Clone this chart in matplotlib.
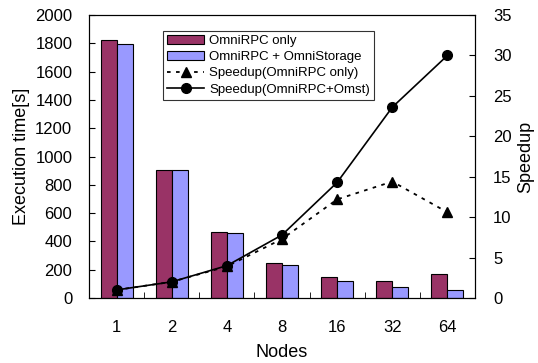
import matplotlib
matplotlib.use('Agg')
import matplotlib.pyplot as plt
import numpy as np

plt.rcParams['font.family'] = ['Liberation Sans', 'DejaVu Sans']

nodes = ['1', '2', '4', '8', '16', '32', '64']
time_rpc_only = [1820, 902, 468, 250, 148, 118, 167]
time_rpc_omst = [1795, 902, 457, 231, 118, 76, 54]
speedup_rpc_only = [1.0, 2.0, 3.9, 7.3, 12.2, 14.4, 10.6]
speedup_rpc_omst = [1.0, 2.0, 4.0, 7.8, 14.3, 23.6, 30.0]

fig = plt.figure(figsize=(5.38, 3.63), dpi=100)
ax1 = fig.add_axes([0.1654, 0.179, 0.7176, 0.7797])
x = np.arange(len(nodes))
width = 0.29

ax1.bar(x - width/2, time_rpc_only, width, color='#993366', edgecolor='black',
        linewidth=0.8, label='OmniRPC only')
ax1.bar(x + width/2, time_rpc_omst, width, color='#9999ff', edgecolor='black',
        linewidth=0.8, label='OmniRPC + OmniStorage')

ax1.set_xlim(-0.5, len(nodes) - 0.5)
ax1.set_ylim(0, 2000)
ax1.set_yticks(range(0, 2001, 200))
ax1.set_xticks(x)
ax1.set_xticklabels(nodes)
ax1.set_xticks(np.arange(0.5, len(nodes) - 1, 1), minor=True)
ax1.tick_params(axis='x', which='major', length=0, pad=16, labelsize=12)
ax1.tick_params(axis='x', which='minor', direction='in', length=4)
ax1.tick_params(axis='y', direction='in', length=4, pad=12, labelsize=12)
ax1.set_xlabel('Nodes', fontsize=13, labelpad=6)
ax1.set_ylabel('Execution time[s]', fontsize=13, labelpad=4)

ax2 = ax1.twinx()
ax2.plot(x, speedup_rpc_only, color='black', linestyle=(0, (2, 3)), linewidth=1.3,
         marker='^', markersize=7, label='Speedup(OmniRPC only)')
ax2.plot(x, speedup_rpc_omst, color='black', linestyle='-', linewidth=1.2,
         marker='o', markersize=7, label='Speedup(OmniRPC+Omst)')
ax2.set_ylim(0, 35)
ax2.set_yticks(range(0, 36, 5))
ax2.tick_params(axis='y', direction='in', length=4, pad=13, labelsize=12)
ax2.set_ylabel('Speedup', fontsize=13, labelpad=4)

lines, labels = ax1.get_legend_handles_labels()
lines2, labels2 = ax2.get_legend_handles_labels()
leg = ax2.legend(lines + lines2, labels + labels2, loc='upper left',
                 bbox_to_anchor=(0.192, 0.944), fontsize=9.5, frameon=True, fancybox=False,
                 edgecolor='black', borderpad=0.3, labelspacing=0.3, handlelength=2.8,
                 handletextpad=0.4, borderaxespad=0)
leg.get_frame().set_linewidth(0.8)

fig.savefig('out.png', dpi=100)
